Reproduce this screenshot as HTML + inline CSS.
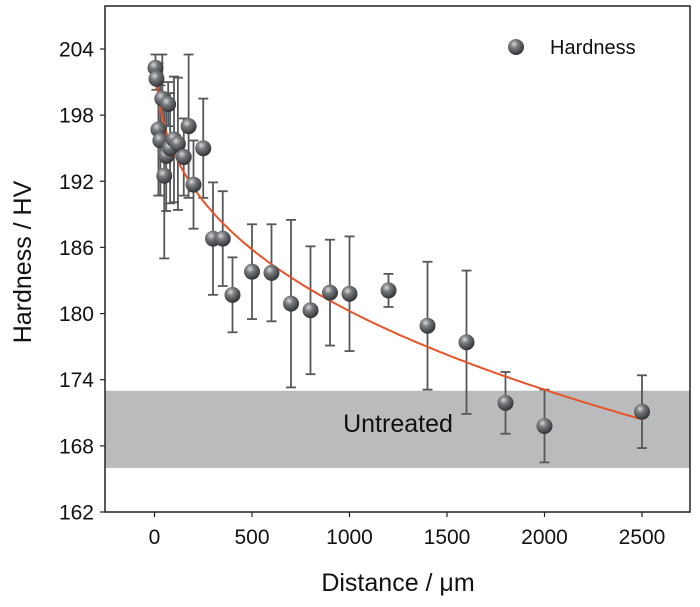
<!DOCTYPE html>
<html><head><meta charset="utf-8"><style>
html,body{margin:0;padding:0;background:#fff;}
svg{display:block;font-family:"Liberation Sans",Arial,sans-serif;}
</style></head><body>
<svg id="chart" width="700" height="607" viewBox="0 0 700 607">
<defs>
<radialGradient id="ball" cx="0.38" cy="0.32" r="0.7">
<stop offset="0" stop-color="#d8d8d8"/><stop offset="0.35" stop-color="#7a7d80"/><stop offset="1" stop-color="#2e3033"/>
</radialGradient>
</defs>
<g id="band"></g>
<g id="axes"></g>
<g id="bars"></g>
<g id="fit"></g>
<g id="pts"></g>
<g id="legend"></g>
</svg>
<script>
const xValues=[5,10,20,30,40,50,60,70,80,100,120,150,175,200,250,300,350,400,500,600,700,800,900,1000,1200,1400,1600,1800,2000,2500];
const hardness=[202.3,201.3,196.7,195.7,199.5,192.5,194.3,199,195,195.8,195.4,194.2,197,191.7,195,186.8,186.8,181.7,183.8,183.7,180.9,180.3,181.9,181.8,182.1,178.9,177.4,171.9,169.8,171.1];
const errors=[1.2,1.0,6,5,4,7.5,5,2,5,5.7,6,3.5,6.5,4,4.5,5.1,4.3,3.4,4.3,4.4,7.6,5.8,4.8,5.2,1.5,5.8,6.5,2.8,3.3,3.3];
const xTicks=[0,500,1000,1500,2000,2500];
const yTicks=[162,168,174,180,186,192,198,204];
const untreatedRange=[166,173];
const fitParams={a:206.2,b:2.315,p:0.35,from:10,to:2500};

const NS="http://www.w3.org/2000/svg";
const L=105,R=690,T=6,B=512;
const X=v=>154.5+(v/2500)*(642-154.5);
const Y=v=>512-(v-162)/42*(512-49);
function mk(tag,attrs,parent){const e=document.createElementNS(NS,tag);for(const k in attrs)e.setAttribute(k,attrs[k]);parent.appendChild(e);return e;}

const band=document.getElementById('band');
const br=mk('rect',{x:L,y:Y(untreatedRange[1]),width:R-L,height:Y(untreatedRange[0])-Y(untreatedRange[1]),fill:'#b9bbbd'},band);


const bt=mk('text',{x:398,y:432,'font-size':25,'text-anchor':'middle',fill:'#111'},band);
bt.textContent='Untreated';



const ax=document.getElementById('axes');
const fr=mk('rect',{x:L,y:T,width:R-L,height:B-T,fill:'none',stroke:'#222','stroke-width':1.5},ax);


xTicks.forEach(t=>{
  mk('line',{x1:X(t),x2:X(t),y1:B,y2:B+5,stroke:'#222','stroke-width':1.2},ax);
  const tx=mk('text',{x:X(t),y:B+32,'font-size':21,'text-anchor':'middle',fill:'#111'},ax);
  tx.textContent=t;
  
  
});
yTicks.forEach(t=>{
  mk('line',{x1:L-5,x2:L,y1:Y(t),y2:Y(t),stroke:'#222','stroke-width':1.2},ax);
  const ty=mk('text',{x:L-11,y:Y(t)+7.5,'font-size':21,'text-anchor':'end',fill:'#111'},ax);
  ty.textContent=t;
  
  
});
const xt=mk('text',{x:398,y:591,'font-size':25,'text-anchor':'middle',fill:'#111'},ax);
xt.textContent='Distance / μm';


const yt=mk('text',{x:0,y:0,'font-size':25,'text-anchor':'middle',fill:'#111',transform:'translate(31,262) rotate(-90)'},ax);
yt.textContent='Hardness / HV';



const bars=document.getElementById('bars');
xValues.forEach((xv,i)=>{
  const g=mk('g',{stroke:'#55585b','stroke-width':1.8},bars);
  
  
  const x=X(xv),y1=Y(hardness[i]+errors[i]),y2=Y(hardness[i]-errors[i]);
  mk('line',{x1:x,x2:x,y1:y1,y2:y2},g);
  mk('line',{x1:x-5,x2:x+5,y1:y1,y2:y1},g);
  mk('line',{x1:x-5,x2:x+5,y1:y2,y2:y2},g);
});

const fit=document.getElementById('fit');
let d='';
for(let k=0;k<=200;k++){const xv=fitParams.from+(fitParams.to-fitParams.from)*k/200;const yv=fitParams.a-fitParams.b*Math.pow(xv,fitParams.p);d+=(k?'L':'M')+X(xv).toFixed(1)+','+Y(yv).toFixed(1);}
const fp=mk('path',{d:d,fill:'none',stroke:'#e8542a','stroke-width':2},fit);



const pts=document.getElementById('pts');
xValues.forEach((xv,i)=>{
  const c=mk('circle',{cx:X(xv),cy:Y(hardness[i]),r:8,fill:'url(#ball)'},pts);
  
  
});

const lg=document.getElementById('legend');
const lc=mk('circle',{cx:516,cy:47,r:8,fill:'url(#ball)'},lg);


const ltx=mk('text',{x:550,y:54,'font-size':20,fill:'#111'},lg);
ltx.textContent='Hardness';


</script>
</body></html>
